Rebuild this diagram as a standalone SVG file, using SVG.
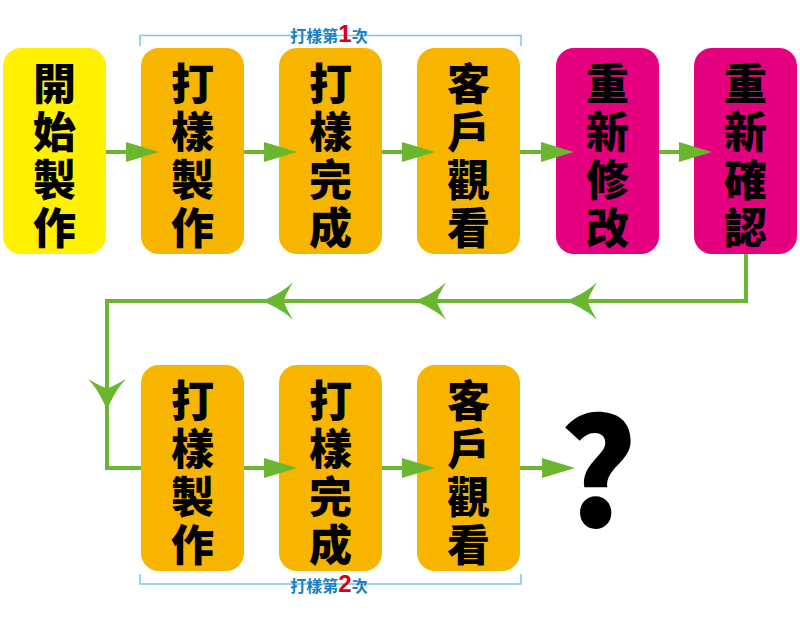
<svg xmlns="http://www.w3.org/2000/svg" xmlns:xlink="http://www.w3.org/1999/xlink" width="800" height="617" viewBox="0 0 800 617">
<style>
.yellow{fill:#fff100}
.orange{fill:#f8b500}
.pink{fill:#e4007f}
.nt{font-family:"Noto Sans CJK TC","Noto Sans CJK SC",sans-serif;font-weight:900;font-size:43px;fill:#000;text-anchor:middle}
.ln{fill:none;stroke:#6ab72f;stroke-width:4}
.ah{fill:#6ab72f}
.br{fill:none;stroke:#71c7ef;stroke-width:1.5}
.lb{font-family:"Noto Sans CJK TC","Noto Sans CJK SC",sans-serif;font-weight:700;font-size:16px;fill:#1a80c4;text-anchor:middle}
.num{font-family:"Liberation Sans",Arial,sans-serif;font-weight:700;font-size:24px;fill:#d7000f}
.q{font-family:"Noto Sans CJK TC","Noto Sans CJK SC",sans-serif;font-weight:900;font-size:148px;fill:#000;text-anchor:middle}
</style>
<defs>
<path id="tri" d="M-33,-10 L0,0 L-33,10 Z"/>
<path id="barb" d="M0,0 C12,-5 23,-11 31,-19 C26,-10 23,-5 22,0 C23,5 26,10 31,19 C23,11 12,5 0,0 Z"/>
</defs>

<g id="n1"><rect class="yellow" x="3" y="48" width="103" height="206" rx="18"/>
<text class="nt"><tspan x="54.5" y="100">開</tspan><tspan x="54.5" y="148">始</tspan><tspan x="54.5" y="196">製</tspan><tspan x="54.5" y="244">作</tspan></text></g>
<g id="n2"><rect class="orange" x="141" y="48" width="103" height="206" rx="18"/>
<text class="nt"><tspan x="192.5" y="100">打</tspan><tspan x="192.5" y="148">樣</tspan><tspan x="192.5" y="196">製</tspan><tspan x="192.5" y="244">作</tspan></text></g>
<g id="n3"><rect class="orange" x="279" y="48" width="103" height="206" rx="18"/>
<text class="nt"><tspan x="330.5" y="100">打</tspan><tspan x="330.5" y="148">樣</tspan><tspan x="330.5" y="196">完</tspan><tspan x="330.5" y="244">成</tspan></text></g>
<g id="n4"><rect class="orange" x="417" y="48" width="103" height="206" rx="18"/>
<text class="nt"><tspan x="468.5" y="100">客</tspan><tspan x="468.5" y="148">戶</tspan><tspan x="468.5" y="196">觀</tspan><tspan x="468.5" y="244">看</tspan></text></g>
<g id="n5"><rect class="pink" x="556" y="48" width="103" height="206" rx="18"/>
<text class="nt"><tspan x="607.5" y="100">重</tspan><tspan x="607.5" y="148">新</tspan><tspan x="607.5" y="196">修</tspan><tspan x="607.5" y="244">改</tspan></text></g>
<g id="n6"><rect class="pink" x="694" y="48" width="103" height="206" rx="18"/>
<text class="nt"><tspan x="745.5" y="100">重</tspan><tspan x="745.5" y="148">新</tspan><tspan x="745.5" y="196">確</tspan><tspan x="745.5" y="244">認</tspan></text></g>

<g id="n7"><rect class="orange" x="141" y="365" width="103" height="206" rx="18"/>
<text class="nt"><tspan x="192.5" y="417">打</tspan><tspan x="192.5" y="465">樣</tspan><tspan x="192.5" y="513">製</tspan><tspan x="192.5" y="561">作</tspan></text></g>
<g id="n8"><rect class="orange" x="279" y="365" width="103" height="206" rx="18"/>
<text class="nt"><tspan x="330.5" y="417">打</tspan><tspan x="330.5" y="465">樣</tspan><tspan x="330.5" y="513">完</tspan><tspan x="330.5" y="561">成</tspan></text></g>
<g id="n9"><rect class="orange" x="417" y="365" width="103" height="206" rx="18"/>
<text class="nt"><tspan x="468.5" y="417">客</tspan><tspan x="468.5" y="465">戶</tspan><tspan x="468.5" y="513">觀</tspan><tspan x="468.5" y="561">看</tspan></text></g>

<g id="q"><text class="q" x="598" y="527">?</text></g>

<g id="brackets">
<path class="br" d="M140,46 V35.5 H521 V46"/>
<text class="lb" x="329" y="42">打樣第<tspan class="num">1</tspan>次</text>
<path class="br" d="M140,574 V584 H521 V574"/>
<text class="lb" x="329" y="592">打樣第<tspan class="num">2</tspan>次</text>
</g>

<g id="connectors">
<path class="ln" d="M106,152 H128 M244,152 H266 M382,152 H404 M520,152 H543 M659,152 H681"/>
<use href="#tri" class="ah" x="159" y="152"/>
<use href="#tri" class="ah" x="297" y="152"/>
<use href="#tri" class="ah" x="435" y="152"/>
<use href="#tri" class="ah" x="574" y="152"/>
<use href="#tri" class="ah" x="712" y="152"/>
<path class="ln" d="M746,254 V301 H107 V468 H141"/>
<use href="#barb" class="ah" x="566" y="301"/>
<use href="#barb" class="ah" x="415" y="301"/>
<use href="#barb" class="ah" x="262" y="301"/>
<use href="#barb" class="ah" transform="translate(107,410) rotate(-90)"/>
<path class="ln" d="M244,468 H266 M382,468 H404 M520,468 H543"/>
<use href="#tri" class="ah" x="297" y="468"/>
<use href="#tri" class="ah" x="435" y="468"/>
<use href="#tri" class="ah" x="575" y="468"/>
</g>
</svg>
